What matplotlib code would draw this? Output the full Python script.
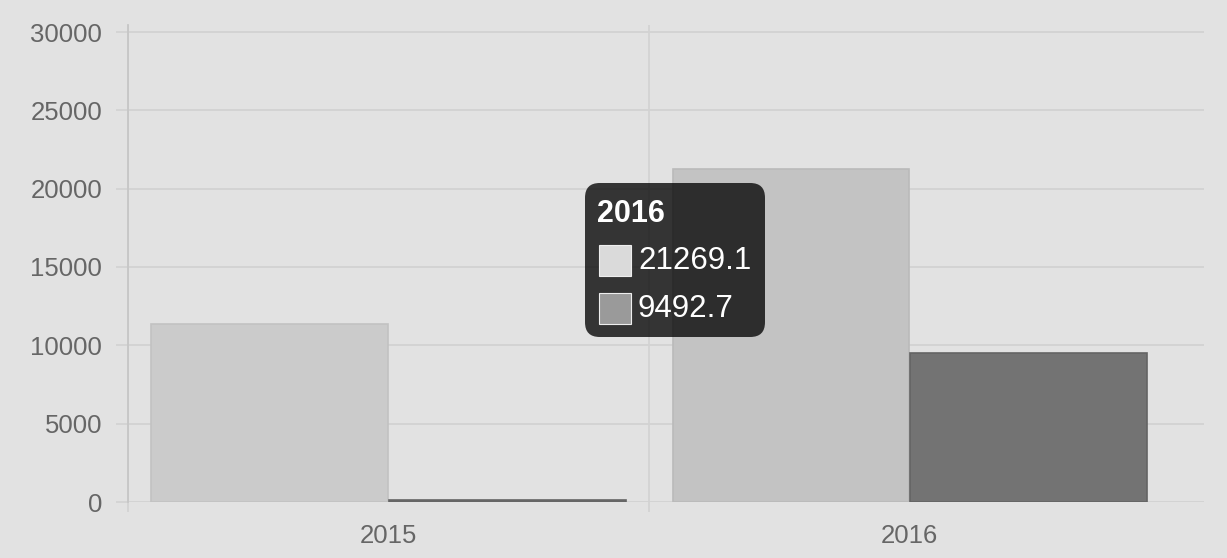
import matplotlib
matplotlib.use("Agg")
import matplotlib.pyplot as plt
from matplotlib.patches import FancyBboxPatch, Rectangle
import numpy as np

plt.rcParams['font.family'] = ['Liberation Sans', 'DejaVu Sans']

# data
categories = ['2015', '2016']
series_a = [11360, 21269.1]   # light bars
series_b = [130, 9492.7]      # dark bars
yticks = [0, 5000, 10000, 15000, 20000, 25000, 30000]

bg = '#e2e2e2'
grid_c = '#d2d2d2'
axis_c = '#c6c6c6'
light_fill = ['#cbcbcb', '#c3c3c3']   # 2016 one is highlighted (hover)
light_edge = ['#c2c2c2', '#bababa']
dark_fill = '#737373'
dark_edge = '#646464'

W, H = 1227, 558
fig = plt.figure(figsize=(W / 100, H / 100), dpi=100, facecolor=bg)
ax = fig.add_axes([128 / W, (H - 502) / H, (1204 - 128) / W, (502 - 25) / H])
ax.set_facecolor(bg)

x = np.arange(len(categories))
bw = 0.454
off = 0.228
for i in range(len(categories)):
    ax.bar(x[i] - off, series_a[i], bw, color=light_fill[i], edgecolor=light_edge[i], lw=1.2, zorder=3)
    ax.bar(x[i] + off, series_b[i], bw, color=dark_fill, edgecolor=dark_edge, lw=1.2, zorder=3)

ax.set_xlim(-0.5, 1.565)
ax.set_ylim(0, 30000 * 477 / 470)

# y axis
ax.set_yticks(yticks)
ax.set_yticklabels([str(v) for v in yticks])
ax.yaxis.grid(True, color=grid_c, lw=1.3, zorder=0)
ax.tick_params(axis='y', length=8.5, width=1.2, color=grid_c, pad=10,
               labelsize=18.5, labelcolor='#666666')

# x axis: boundary ticks (major) and centred labels (minor)
ax.set_xticks([-0.5, 0.5])
ax.set_xticklabels(['', ''])
ax.xaxis.grid(True, color=grid_c, lw=1.2, zorder=0)
ax.tick_params(axis='x', which='major', length=7.5, width=1.2, color=grid_c)
ax.set_xticks(x, minor=True)
ax.set_xticklabels(categories, minor=True)
ax.tick_params(axis='x', which='minor', length=0, pad=16, labelsize=18.5, labelcolor='#666666')

for s in ['top', 'right', 'bottom']:
    ax.spines[s].set_visible(False)
ax.spines['left'].set_color(axis_c)
ax.spines['left'].set_linewidth(1.3)


# tooltip overlay (pixel helper -> figure fraction)
def fx(px):
    return px / W


def fy(py):
    return (H - py) / H


box = FancyBboxPatch((fx(585), fy(337)), fx(765) - fx(585), fy(183) - fy(337),
                     boxstyle='round,pad=0,rounding_size=0.012',
                     transform=fig.transFigure, facecolor='black', alpha=0.77,
                     edgecolor='none', zorder=10, mutation_aspect=W / H)
fig.patches.append(box)
fig.text(fx(597), fy(214), categories[1], color='white', fontsize=22,
         fontweight='bold', va='center', ha='left', zorder=11)
sw = [(245, '#dadada', series_a[1]), (293, '#9a9a9a', series_b[1])]
for top, col, val in sw:
    r = Rectangle((fx(599), fy(top + 31)), fx(631) - fx(599), fy(top) - fy(top + 31),
                  transform=fig.transFigure, facecolor=col, edgecolor='#eeeeee',
                  lw=0.8, zorder=11)
    fig.patches.append(r)
    fig.text(fx(638), fy(top + 16), str(val), color='white', fontsize=22.5,
             va='center', ha='left', zorder=11)

fig.savefig('out.png', dpi=100, facecolor=bg)
